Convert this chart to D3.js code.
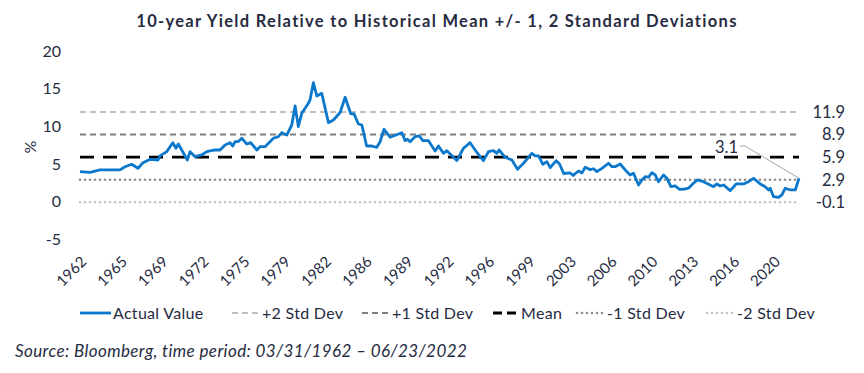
<!DOCTYPE html>
<html><head><meta charset="utf-8">
<script src="https://cdn.jsdelivr.net/npm/d3@7"></script>
<style>body{margin:0;background:#fff}svg{display:block}</style>
</head><body><div id="chart"></div>
<script>
const years = [1962.25,1963.09,1963.93,1965.60,1966.02,1966.58,1967.11,1967.53,1968.12,1968.79,1968.95,1969.52,1970.02,1970.29,1970.49,1971.24,1971.47,1971.89,1972.45,1972.87,1973.56,1973.98,1974.40,1974.82,1975.05,1975.24,1975.49,1975.80,1976.22,1976.55,1977.06,1977.33,1977.75,1978.45,1978.87,1979.15,1979.57,1979.99,1980.27,1980.54,1980.83,1981.38,1981.52,1981.80,1982.09,1982.50,1983.06,1983.48,1984.04,1984.46,1984.93,1985.21,1985.57,1985.86,1986.26,1986.69,1987.11,1987.39,1987.72,1988.23,1989.21,1989.49,1989.68,1989.90,1990.32,1990.68,1990.97,1991.44,1992.00,1992.28,1992.69,1992.98,1993.82,1994.37,1994.93,1995.35,1995.77,1996.05,1996.47,1996.89,1997.17,1997.36,1997.87,1998.43,1998.90,1999.40,2000.10,2000.38,2000.66,2001.02,2001.36,2001.64,2002.14,2002.42,2002.77,2003.31,2003.56,2004.01,2004.29,2004.57,2004.99,2005.27,2005.55,2005.97,2006.52,2006.81,2007.08,2007.50,2007.92,2008.34,2008.62,2009.04,2009.32,2009.60,2009.88,2010.16,2010.44,2010.71,2011.13,2011.42,2011.75,2012.11,2012.47,2012.95,2013.22,2013.64,2013.98,2014.48,2015.04,2015.32,2015.60,2015.88,2016.16,2016.72,2017.22,2017.83,2018.25,2018.67,2019.23,2019.65,2019.93,2020.07,2020.35,2020.77,2021.05,2021.33,2021.75,2022.17,2022.48];
const yields = [3.97,3.89,4.20,4.20,4.63,4.95,4.42,5.17,5.62,5.52,6.06,6.63,7.82,7.08,7.65,5.52,6.63,5.96,6.19,6.63,6.85,6.85,7.52,7.82,7.38,7.95,7.95,8.41,7.65,7.82,6.85,7.29,7.29,8.41,8.62,9.15,8.84,10.17,12.70,9.95,11.73,13.05,13.50,15.79,14.02,14.38,10.48,10.84,11.83,13.85,11.67,11.63,10.30,10.17,7.38,7.38,7.21,7.95,9.60,8.54,9.15,8.09,8.27,7.95,8.62,8.71,8.09,8.09,6.72,7.38,6.41,6.76,5.44,7.08,7.82,6.85,5.96,5.44,6.63,6.76,6.41,6.85,5.88,5.52,4.29,5.09,6.41,6.06,6.06,4.95,5.30,4.50,5.43,4.99,3.73,3.80,3.47,4.06,3.80,4.55,4.24,4.36,3.97,4.42,5.09,4.63,4.63,4.99,4.20,3.53,3.76,2.20,2.86,3.31,3.23,3.84,3.53,2.64,3.53,3.09,1.98,2.07,1.63,1.67,1.77,2.43,2.87,2.64,2.20,1.98,2.34,2.07,2.20,1.45,2.34,2.34,2.64,3.09,2.34,1.98,1.54,1.77,0.65,0.57,0.88,1.77,1.54,1.54,3.10];

const refNames = ["+2 Std Dev","+1 Std Dev","Mean","-1 Std Dev","-2 Std Dev"];
const refValues = [11.9, 8.9, 5.9, 2.9, -0.1];
const refLabels = ["11.9","8.9","5.9","2.9","-0.1"];
const yTicks = [20,15,10,5,0,-5];
const xTickLabels = ["1962","1965","1969","1972","1975","1979","1982","1986","1989","1992","1996","1999","2003","2006","2010","2013","2016","2020"];
const lastLabel = "3.1";

const W = 864, H = 373;
const FONT = "Lato, 'Open Sans', sans-serif";
const TXT = "#262b3f";
const BLUE = "#0b78cc";
const refStyles = [
  {stroke:"#bfbfbf", dash:"6,4", w:2, cap:"butt"},
  {stroke:"#7f7f7f", dash:"6,4", w:2, cap:"butt"},
  {stroke:"#000000", dash:"14,9", w:2.8, cap:"butt"},
  {stroke:"#8c8c8c", dash:"0,5", w:2.6, cap:"round"},
  {stroke:"#c4c4c4", dash:"0,5", w:2.6, cap:"round"}
];

const svg = d3.select("#chart").append("svg").attr("width", W).attr("height", H)
  .style("font-family", FONT);

const x = d3.scaleLinear().domain([1962.25, 2022.48]).range([80, 799]);
const y = d3.scaleLinear().domain([-5, 20]).range([239.2, 51]);

// Title
svg.append("text").attr("x", 437).attr("y", 27).attr("text-anchor", "middle")
  .attr("font-size", 16.5).attr("font-weight", "bold").attr("fill", TXT)
  .attr("letter-spacing", 1.3)
  .text("10-year Yield Relative to Historical Mean +/- 1, 2 Standard Deviations");

// Y axis (no line, labels only)
const yAxis = d3.axisLeft(y).tickValues(yTicks).tickSize(0).tickPadding(0)
  .tickFormat(d => String(d));
const gy = svg.append("g").attr("transform", "translate(61,0)").call(yAxis);
gy.select(".domain").remove();
gy.selectAll("text").attr("font-size", 16).attr("fill", TXT).attr("font-family", FONT);

svg.append("text").attr("transform", "translate(36,147) rotate(-90)")
  .attr("text-anchor", "middle").attr("font-size", 16).attr("fill", TXT).text("%");

// Reference lines
svg.append("g").selectAll("line").data(refValues).join("line")
  .attr("x1", x(1962.25)).attr("x2", x(2022.48))
  .attr("y1", d => y(d)).attr("y2", d => y(d))
  .attr("stroke", (d,i) => refStyles[i].stroke)
  .attr("stroke-width", (d,i) => refStyles[i].w)
  .attr("stroke-dasharray", (d,i) => refStyles[i].dash)
  .attr("stroke-linecap", (d,i) => refStyles[i].cap);

svg.append("g").selectAll("text").data(refValues).join("text")
  .attr("x", 845).attr("y", d => y(d)).attr("dy", "0.35em")
  .attr("text-anchor", "end").attr("font-size", 16.5).attr("fill", TXT)
  .text((d,i) => refLabels[i]);

// Yield line
const data = years.map((yr, i) => ({yr, v: yields[i]}));
svg.append("path").datum(data)
  .attr("fill", "none").attr("stroke", BLUE).attr("stroke-width", 2.8)
  .attr("stroke-linejoin", "round")
  .attr("d", d3.line().x(d => x(d.yr)).y(d => y(d.v)));

// Last value callout
const last = data[data.length - 1];
svg.append("polyline")
  .attr("points", `${x(last.yr)},${y(last.v)} ${745},${146} ${740},${146}`)
  .attr("fill", "none").attr("stroke", "#a6a6a6").attr("stroke-width", 1);
svg.append("text").attr("x", 738).attr("y", 153).attr("text-anchor", "end")
  .attr("font-size", 16.5).attr("fill", TXT).text(lastLabel);

// X axis labels
const tickStart = 1962.55, tickStep = 3.419;
const gx = svg.append("g");
xTickLabels.forEach((lab, i) => {
  const px = x(tickStart + i * tickStep);
  gx.append("text")
    .attr("transform", `translate(${px},259) rotate(-45)`)
    .attr("text-anchor", "end").attr("dy", "0.35em")
    .attr("font-size", 15).attr("fill", TXT).text(lab);
});

// Legend
const legend = [
  {name:"Actual Value", x1:80, x2:111, tx:113, stroke:BLUE, dash:null, w:2.8, cap:"butt"},
  {name:refNames[0], x1:232, x2:260, tx:262, ...refStyles[0]},
  {name:refNames[1], x1:362, x2:390, tx:392, ...refStyles[1]},
  {name:refNames[2], x1:493, x2:519, tx:521, ...refStyles[2]},
  {name:refNames[3], x1:577, x2:604, tx:607, ...refStyles[3]},
  {name:refNames[4], x1:707, x2:734, tx:737, ...refStyles[4]}
];
legend[3].dash = "9,5";
const lg = svg.append("g");
legend.forEach(it => {
  lg.append("line").attr("x1", it.x1).attr("x2", it.x2).attr("y1", 313).attr("y2", 313)
    .attr("stroke", it.stroke).attr("stroke-width", it.w)
    .attr("stroke-dasharray", it.dash).attr("stroke-linecap", it.cap);
  lg.append("text").attr("x", it.tx).attr("y", 313).attr("dy", "0.35em")
    .attr("font-size", 16).attr("letter-spacing", 0.3).attr("fill", TXT).text(it.name);
});

// Source
svg.append("text").attr("x", 15).attr("y", 357).attr("font-size", 17)
  .attr("letter-spacing", 0.4)
  .attr("font-style", "italic").attr("fill", TXT)
  .text("Source: Bloomberg, time period: 03/31/1962 \u2013 06/23/2022");
</script></body></html>
